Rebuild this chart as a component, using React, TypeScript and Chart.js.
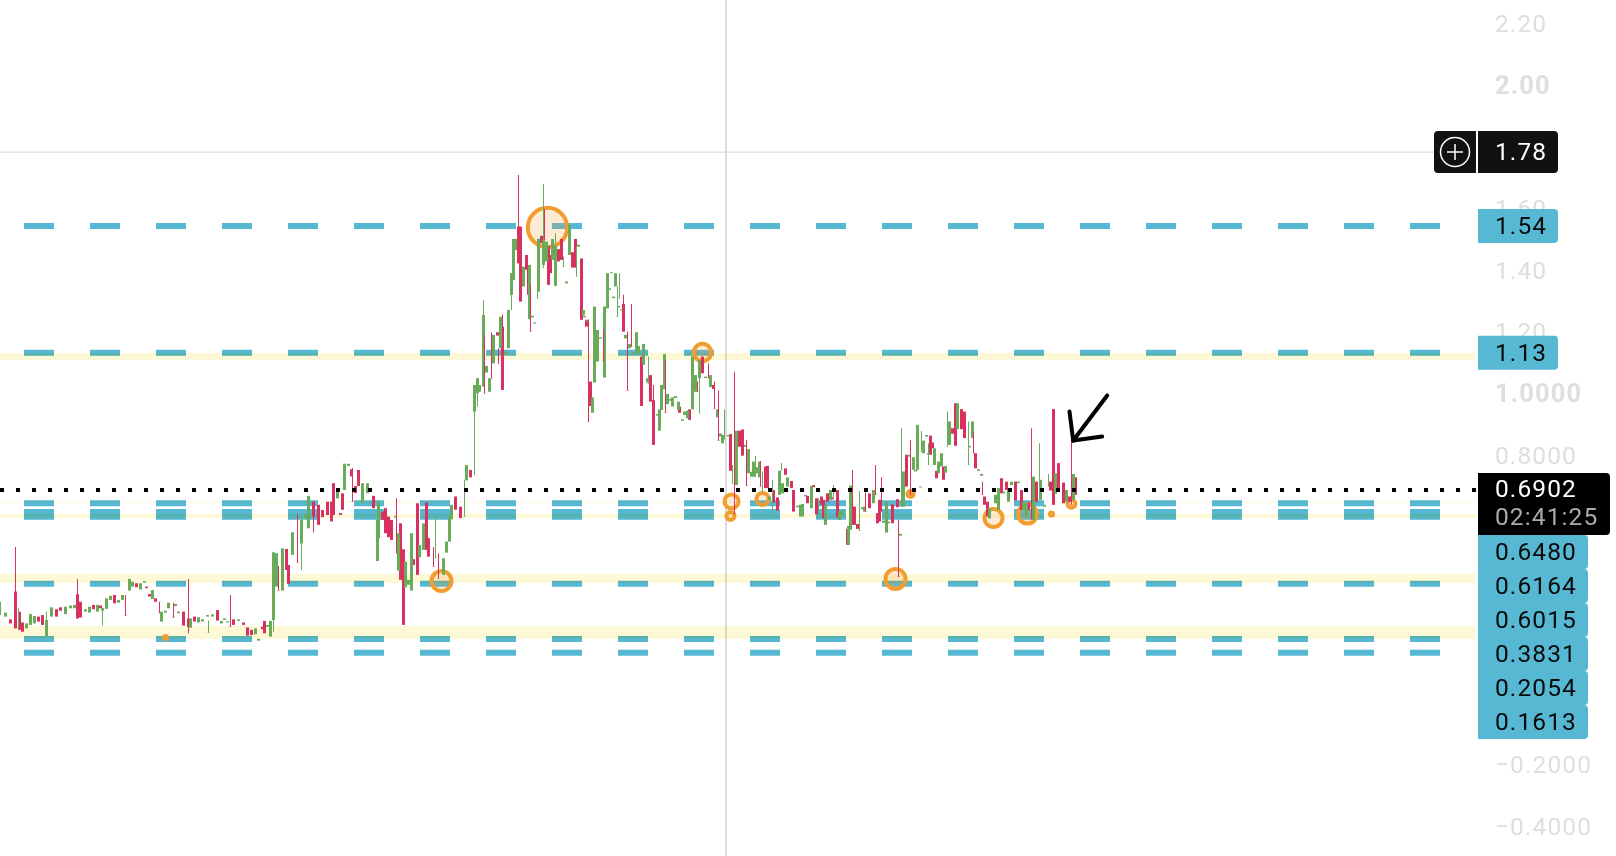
import { useEffect, useRef } from "react"
import { Chart, registerables } from "chart.js"

Chart.register(...registerables)

// [bar, open, close] or [bar, open, close, high, low]
type Candle = number[]

const openingRange: Candle[] = [
  [0,.3,.301,.329,.286],[5,.281,.294],[10,.272,.259],[15,.362,.243,.506,.243],[18,.26,.261,.308,.243],[19,.297,.238],[22,.262,.232],
  [26,.243,.259],[30,.254,.289],[34,.259,.283],[38,.281,.265],[42,.286,.254],[46,.218,.27,.297,.218],[51,.281,.311],[56,.305,.281],
  [60,.311,.3],[65,.289,.313],[70,.308,.317],[74,.308,.319],[77,.353,.275,.403,.275],[80,.329,.278],[85,.297,.305],[89,.294,.313],
  [93,.319,.305],[97,.297,.319],[100,.317,.308],[102,.3,.308,.308,.252],[106,.306,.34],[110,.335,.348],[114,.351,.324],[118,.326,.335],
  [122,.335,.351],[125,.285,.284,.351,.284],[129,.365,.403],[132,.378,.394],[136,.389,.376],[140,.369,.389],[144,.391,.396],[146,.378,.373],
  [149,.354,.346],[152,.338,.367],[155,.34,.329],[159,.293,.292,.329,.292],[161,.265,.297],[165,.294,.3],[168,.308,.326],[173,.279,.278,.326,.278],
  [175,.315,.322],[178,.292,.297],[183,.297,.252],[188,.275,.248,.403,.227],[190,.245,.275],[194,.281,.265],[198,.262,.279],[202,.265,.272],
  [207,.281,.286],[208,.229,.23,.268,.229],[212,.281,.288],[217,.302,.268],[221,.259,.267],[224,.27,.275],[227,.262,.266],[230,.249,.248,.351,.248],
  [233,.272,.254],[238,.267,.272],[243,.262,.254],[247,.246,.219],[251,.238,.221],[255,.224,.243],[258,.203,.209],[262,.248,.24],[264,.267,.227],
  [267,.248,.254],[270,.216,.267],
]

const firstBreakout: Candle[] = [
  [273,.27,.489,.489,.232],[276,.378,.486],[278,.366,.365,.445,.365],[282,.365,.502],[286,.5,.432],[288,.448,.387],[292,.481,.554],
  [297,.457,.456,.614,.456],[301,.518,.594,.605,.432],[305,.6,.61],[308,.567,.672],[313,.653,.605,.653,.553],[318,.643,.578],[322,.626,.603],
  [327,.653,.61],[331,.653,.589],[333,.713,.61],[337,.664,.691],[340,.616,.61],[342,.68,.627],[344,.691,.776],[348,.769,.776],[351,.758,.735],
  [352,.654,.653,.762,.653],[355,.704,.681],[358,.756,.704],[362,.648,.713],[367,.681,.713],[373,.672,.632],[377,.461,.594],[378,.535,.653],
  [382,.621,.594],[385,.632,.551],[388,.605,.538],[391,.594,.529],[395,.602,.607],[396,.487,.486,.664,.486],[397,.542,.488],[398,.43,.551],
  [400,.583,.4],[403,.499,.254],[405,.376,.459],[408,.384,.4],[411,.365,.551],[413,.467,.448],[417,.648,.416],[419,.473,.513],[423,.497,.583],
  [426,.651,.497],[428,.535,.475],[433,.444,.443,.506,.443],[435,.47,.471,.605,.47],[438,.406,.405,.486,.405],[443,.416,.47],[446,.488,.524],
  [449,.524,.605],[451,.596,.643],[455,.67,.627],[460,.637,.6],[464,.605,.606,.724,.605],[466,.722,.772],[470,.756,.732],
]

const parabolicRun: Candle[] = [
  [474,.945,1.031,1.031,.739],[477,1.004,1.053,1.053,.961],[479,1.009,1.031],[483,1.026,1.258,1.306,1.026],[484,1.005,1.004,1.193,1.004],
  [486,1.071,1.093],[489,1.009,1.053],[491,1.054,1.053,1.202,1.053],[493,1.101,1.193],[497,1.202,1.191],[498,1.102,1.101,1.15,1.101],
  [500,1.15,1.252],[502,1.22,1.015,1.26,1.015],[505,1.128,1.139],[508,1.15,1.274],[511,1.323,1.393,1.393,1.274],[513,1.371,1.504],[515,1.468,1.504],
  [518,1.544,1.425,1.711,1.425],[520,1.544,1.301],[523,1.35,1.414],[526,1.452,1.404],[528,1.404,1.323],[529,1.244,1.42],[530,1.205,1.204,1.36,1.204],
  [532,1.25,1.255],[534,1.23,1.234],[537,1.312,1.313,1.333,1.312],[538,1.333,1.504],[541,1.514,1.49],[543,1.42,1.5,1.682,1.409],[544,1.502,1.501,1.601,1.501],
  [546,1.431,1.495],[548,1.481,1.355],[550,1.452,1.393],[552,1.436,1.504],[555,1.352,1.481,1.522,1.352],[558,1.471,1.431],[561,1.504,1.436],
  [563,1.414,1.415,1.447,1.414],[566,1.36,1.366],[569,1.452,1.549],[572,1.461,1.411],[575,1.504,1.411],[576,1.382,1.383,1.481,1.382],[578,1.479,1.485],
]

const firstDecline: Candle[] = [
  [581,1.441,1.242],[583,1.258,1.274],[584,1.25,1.255],[586,1.242,1.22],[587,1.236,1.242],[588,.913,.912,1.242,.912],[590,1.042,.963],[592,.941,.991],
  [594,1.039,1.285],[597,1.107,1.209],[600,1.181,1.185],[603,1.11,1.109,1.212,1.109],[604,1.055,1.285],[607,1.279,1.393],[609,1.339,1.344],[611,1.393,1.396],
  [613,1.312,1.317],[615,1.35,1.393],[617,1.252,1.253,1.35,1.252],[618,1.282,1.287],[619,1.312,1.313,1.393,1.312],[621,1.272,1.276],
  [623,1.293,1.204,1.323,1.204],[625,1.182,1.193],[627,1.014,1.013,1.204,1.013],[629,1.15,1.164],[631,1.156,1.155,1.293,1.155],[633,1.128,1.136],
  [636,1.134,1.202],[638,1.134,1.157],[641,1.123,.963],[643,1.096,1.164],[647,1.039,1.053],[648,1.036,1.037,1.123,1.036],[650,1.063,.977],
  [653,.982,.837,1.031,.837],[657,.932,.937],[659,.883,.952],[661,.95,1.031],[664,1.017,1.131],[665,.942,.941,1.112,.941],[667,.969,1.002],
  [670,.98,.986],[672,.961,.991],[675,.989,.995],[678,.95,.977],[679,.961,.941],[682,.915,.92],[684,.934,.945],[687,.923,.948],[689,.952,.918],
  [692,.952,1.123],[695,1.009,1.063],[697,1.01,1.009,1.042,1.009],[699,1.053,1.112,1.112,.939],[702,1.123,1.069],[705,1.053,1.058],
  [708,1.054,1.053,1.101,1.053],[710,1.024,1.063],[713,1.031,1.018],[714,.956,.955,1.042,.955],[717,.926,.952],[718,.852,.851,1.013,.851],
  [720,.864,.874],[722,.842,.869],[724,.855,.856,.952,.855],[728,.864,.869],[730,.872,.753],[732,.712,.713,.772,.712],[734,.616,.615,1.074,.615],
  [736,.707,.883],[739,.883,.831],[742,.887,.802],[745,.831,.837],[746,.705,.704,.853,.704],[748,.745,.823],[751,.734,.75],[753,.734,.783],
  [755,.75,.751,.801,.734],
]

const lowerChop: Candle[] = [
  [757,.745,.765],[759,.732,.783],[760,.703,.702,.785,.702],[762,.686,.687,.751,.686],[765,.767,.697],[767,.769,.697],[769,.659,.67],[772,.616,.617,.724,.616],
  [773,.691,.65],[777,.667,.624],[779,.675,.753],[781,.754,.755,.778,.754],[782,.68,.713],[785,.761,.74],[787,.702,.732],[791,.72,.697],[793,.691,.621],
  [797,.635,.64],[800,.605,.643],[802,.605,.646],[805,.67,.675],[807,.672,.648],[811,.632,.704],[813,.707,.7],[816,.664,.612],[818,.61,.611,.664,.61],
  [821,.67,.643],[823,.659,.599],[825,.578,.643],[827,.68,.653],[830,.659,.691],[832,.667,.661],[833,.67,.671,.707,.67],[837,.691,.602],[839,.594,.621],
  [842,.61,.626],[847,.565,.513],[848,.513,.575],[850,.562,.705],[852,.637,.578,.756,.578],[854,.637,.578],[857,.581,.565],[859,.559,.56,.688,.559],
  [862,.629,.635],[864,.621,.637],[865,.622,.621,.683,.621],[869,.68,.632],[873,.648,.691],[875,.676,.675,.772,.675],[877,.616,.583],[879,.659,.589],
  [881,.622,.621,.732,.621],[883,.585,.592],[886,.553,.653],[888,.583,.589],[892,.645,.583],[897,.661,.635],[898,.411,.41,.594,.41],[900,.543,.549],
]

const finalBase: Candle[] = [
  [901,.637,.638,.891,.637],[903,.637,.751],[906,.805,.702],[908,.799,.805],[910,.676,.675,.853,.675],[913,.756,.797],[915,.751,.756],[917,.756,.902],
  [920,.699,.702],[921,.815,.816,.882,.815],[923,.81,.851],[926,.864,.869],[928,.805,.81,.842,.772],[930,.867,.805],[932,.845,.826],[934,.772,.826],
  [936,.753,.729],[938,.745,.783],[941,.767,.81],[943,.767,.724],[945,.747,.769],[947,.832,.833,.945,.832],[949,.837,.913],[952,.891,.873],
  [955,.972,.834],[957,.888,.972],[961,.953,.888],[964,.945,.859],[968,.772,.773,.913,.772],[969,.829,.834],[972,.859,.913],[973,.811,.81,.88,.81],
  [975,.81,.761],[978,.753,.758],[981,.737,.743],[982,.676,.675,.718,.675],[984,.67,.643],[987,.653,.605],[989,.599,.632],[995,.648,.675],[998,.626,.697],
  [1001,.729,.68],[1003,.68,.686],[1006,.718,.691],[1008,.653,.691],[1011,.707,.718],[1015,.718,.657],[1018,.713,.718],[1021,.691,.626],[1023,.626,.653],
  [1026,.605,.648],[1028,.65,.626],[1031,.597,.596,.891,.596],[1033,.594,.734],[1036,.718,.653],[1039,.664,.665,.842,.664],[1040,.659,.724],[1044,.637,.643],
  [1048,.702,.703,.743,.702],[1050,.718,.689],[1053,.953,.643],[1055,.678,.745],[1058,.778,.686],[1063,.715,.648],[1066,.653,.691],[1069,.67,.653],
  [1071,.644,.643,.864,.643],[1073,.659,.743],[1075,.732,.675],
]

const candles = [...openingRange, ...firstBreakout, ...parabolicRun, ...firstDecline, ...lowerChop, ...finalBase]

// Levels as drawn (the tags print them rounded)
const levelPrices = [1.546, 1.135, 0.648, 0.62, 0.604, 0.387, 0.2085, 0.1635]
const upperTagLabels = ["1.54", "1.13"]
const stackedTagLabels = ["0.6480", "0.6164", "0.6015", "0.3831", "0.2054", "0.1613"]

const bandHighs = [1.135, 0.654, 0.614, 0.419, 0.251]
const bandLows = [1.112, 0.651, 0.601, 0.39, 0.209]

const markerBars = [547, 702, 731, 730, 762, 910, 895, 993, 1027, 1051, 1071, 441, 165]
const markerPrices = [1.541, 1.136, 0.654, 0.607, 0.662, 0.678, 0.403, 0.6, 0.613, 0.613, 0.646, 0.396, 0.213]
const markerSizes = [19.7, 8.7, 7, 4, 6, 3, 10, 9, 9.5, 1.5, 4, 10, 1.5]

const lastPrice = 0.6912
const lastPriceLabel = "0.6902"
const countdownLabel = "02:41:25"
const crosshairBar = 725.5
const crosshairPrice = 1.785
const crosshairLabel = "1.78"

// Hand-drawn arrow: shaft end, tip, then barb, tip, barb
const arrowBars = [1106.7, 1072.7, 1069, 1072.7, 1101.7]
const arrowPrices = [0.997, 0.851, 0.945, 0.851, 0.864]

const LEVEL_BLUE = "#56b8d3"
const GREEN = "#68ab58"
const RED = "#d8315f"
const FONT_FAMILY = "Roboto"
const FONT_SIZE = 24.5
const LETTER_SPACING = "1.1px"
const TICK_SHIFT = 1.5

const point = (x: number, y: number) => ({ x, y })
const horizontal = (y: number, from: number, to: number) => [point(from, y), point(to, y)]

const isUp = (c: Candle) => c[2] >= c[1]
const bodies = (list: Candle[]) => list.map((c) => ({ x: c[0], y: [c[1], c[2]] }))
const wicks = (list: Candle[]) => list.filter((c) => c.length > 3).map((c) => ({ x: c[0], y: [c[4], c[3]] }))

const candleBar = (label: string, color: string, thickness: number, data: object[]) => ({
  type: "bar" as const,
  label,
  data,
  backgroundColor: color,
  barThickness: thickness,
  grouped: false,
  inflateAmount: 0,
  order: 3,
})

// Yellow zones multiply over the level dashes, under markers and candles
const zonesPlugin = {
  id: "zones",
  beforeDatasetDraw(chart: Chart, args: { index: number }) {
    if (chart.data.datasets[args.index].label !== "Markers") return
    const { ctx, chartArea, scales } = chart
    ctx.save()
    ctx.globalCompositeOperation = "multiply"
    ctx.fillStyle = "#fdf8d6"
    bandHighs.forEach((high, i) => {
      const top = scales.y.getPixelForValue(high)
      const bottom = scales.y.getPixelForValue(bandLows[i])
      ctx.fillRect(chartArea.left, top, chartArea.right, bottom - top)
    })
    ctx.restore()
  },
}

const tag = (ctx: CanvasRenderingContext2D, x: number, y: number, w: number, h: number, color: string, radii: number[]) => {
  ctx.fillStyle = color
  ctx.beginPath()
  ctx.roundRect(x, y, w, h, radii)
  ctx.fill()
}

const tagText = (ctx: CanvasRenderingContext2D, text: string, y: number, color: string) => {
  ctx.fillStyle = color
  ctx.font = `${FONT_SIZE}px ${FONT_FAMILY}`
  ctx.textAlign = "left"
  ctx.textBaseline = "middle"
  ctx.fillText(text, 1495, y + 2)
}

const priceTagsPlugin = {
  id: "priceTags",
  beforeDraw(chart: Chart) {
    // stays on the context, so the axis ticks pick it up too
    chart.ctx.letterSpacing = LETTER_SPACING
    chart.ctx.translate(0, TICK_SHIFT)
  },
  beforeDatasetsDraw(chart: Chart) {
    chart.ctx.translate(0, -TICK_SHIFT)
  },
  afterDraw(chart: Chart) {
    const { ctx, scales } = chart
    ctx.save()

    // crosshair tag with the plus button
    const crossY = 152
    tag(ctx, 1434, crossY - 21, 42, 42, "#111111", [4, 0, 0, 4])
    tag(ctx, 1478, crossY - 21, 80, 42, "#111111", [0, 4, 4, 0])
    ctx.strokeStyle = "#ffffff"
    ctx.lineWidth = 1.5
    ctx.beginPath()
    ctx.arc(1455, crossY, 14.5, 0, Math.PI * 2)
    ctx.moveTo(1447, crossY)
    ctx.lineTo(1463, crossY)
    ctx.moveTo(1455, crossY - 8)
    ctx.lineTo(1455, crossY + 8)
    ctx.stroke()
    tagText(ctx, crosshairLabel, crossY, "#ffffff")

    upperTagLabels.forEach((label, i) => {
      const y = scales.y.getPixelForValue(levelPrices[i])
      tag(ctx, 1478, y - 17, 80, 34, LEVEL_BLUE, [0, 4, 4, 0])
      tagText(ctx, label, y, "#0a0a0a")
    })

    // last price with the countdown
    tag(ctx, 1478, 473, 132, 62, "#000000", [0, 4, 4, 0])
    tagText(ctx, lastPriceLabel, 489, "#ffffff")
    tagText(ctx, countdownLabel, 516.5, "#aaaaaa")

    stackedTagLabels.forEach((label, i) => {
      const y = 535 + i * 34
      tag(ctx, 1478, y, 110, 34, LEVEL_BLUE, [0, 4, 4, 0])
      tagText(ctx, label, y + 16.5, "#0a0a0a")
    })
    ctx.restore()
  },
}

export default function App() {
  const chartRef = useRef<HTMLCanvasElement>(null)

  useEffect(() => {
    if (!chartRef.current) return

    const up = candles.filter(isUp)
    const down = candles.filter((c) => !isUp(c))

    const chart = new Chart(chartRef.current, {
      type: "bar",
      data: {
        datasets: [
          candleBar("Up wicks", GREEN, 1, wicks(up)),
          candleBar("Down wicks", RED, 1, wicks(down)),
          candleBar("Up bodies", GREEN, 3, bodies(up)),
          candleBar("Down bodies", RED, 3, bodies(down)),
          {
            type: "line" as const,
            label: "Last price",
            data: horizontal(lastPrice, -0.5, 1475.5),
            borderColor: "#000000",
            borderWidth: 4,
            borderDash: [4, 12],
            pointRadius: 0,
            order: 1,
          },
          {
            type: "line" as const,
            label: "Arrow shaft",
            data: arrowBars.slice(0, 2).map((x, i) => point(x, arrowPrices[i])),
            borderColor: "#000000",
            borderWidth: 4,
            borderCapStyle: "round" as const,
            pointRadius: 0,
            order: 0,
          },
          {
            type: "line" as const,
            label: "Arrow head",
            data: arrowBars.slice(2).map((x, i) => point(x, arrowPrices[i + 2])),
            borderColor: "#000000",
            borderWidth: 4,
            borderCapStyle: "round" as const,
            borderJoinStyle: "round" as const,
            pointRadius: 0,
            order: 0,
          },
          {
            type: "bubble" as const,
            label: "Markers",
            data: markerBars.map((x, i) => ({ x, y: markerPrices[i], r: markerSizes[i] })),
            borderColor: "#f39c2f",
            backgroundColor: "rgba(243,156,47,0.2)",
            borderWidth: 4,
            order: 4,
          },
          ...levelPrices.map((price) => ({
            type: "line" as const,
            label: `Level ${price}`,
            data: horizontal(price, 23.5, 1439.5),
            borderColor: LEVEL_BLUE,
            borderWidth: 6,
            borderDash: [30, 36],
            pointRadius: 0,
            order: 5,
          })),
          {
            type: "line" as const,
            label: "Crosshair price",
            data: horizontal(crosshairPrice, -0.5, 1433.5),
            borderColor: "#dddddd",
            borderWidth: 1.4,
            pointRadius: 0,
            order: 6,
          },
          {
            type: "line" as const,
            label: "Crosshair time",
            data: [point(crosshairBar, -0.4943), point(crosshairBar, 2.2777)],
            borderColor: "#dddddd",
            borderWidth: 2,
            pointRadius: 0,
            order: 6,
          },
        ] as never,
      },
      options: {
        responsive: false,
        animation: false,
        events: [],
        layout: { padding: 0, autoPadding: false },
        plugins: { legend: { display: false }, tooltip: { enabled: false } },
        scales: {
          x: { type: "linear", display: false, offset: false, min: -0.5, max: 1475.5 },
          y: {
            position: "right",
            min: -0.4943,
            max: 2.2777,
            grid: { display: false },
            border: { display: false },
            afterFit: (scale) => {
              scale.width = 140
              scale.paddingTop = 0
              scale.paddingBottom = 0
            },
            ticks: {
              stepSize: 0.2,
              includeBounds: false,
              padding: 11,
              color: "#dedede",
              font: (ctx) => {
                const value = Number(ctx.tick?.value?.toFixed(1))
                const major = value === 2 || value === 1
                return { family: FONT_FAMILY, size: major ? FONT_SIZE + 1 : FONT_SIZE, weight: major ? "bold" : "normal" }
              },
              callback: (value) => {
                const v = Number(value)
                const text = Math.abs(v).toFixed(v > 1.05 ? 2 : 4)
                return v < -0.001 ? `\u2212${text}` : text
              },
            },
          },
        },
      },
      plugins: [zonesPlugin, priceTagsPlugin],
    })

    return () => chart.destroy()
  }, [])

  return (
    <div style={{ position: "fixed", left: 0, top: 0, width: 1616, height: 856, background: "#ffffff" }}>
      <canvas ref={chartRef} width={1616} height={856} style={{ display: "block" }}></canvas>
    </div>
  )
}
